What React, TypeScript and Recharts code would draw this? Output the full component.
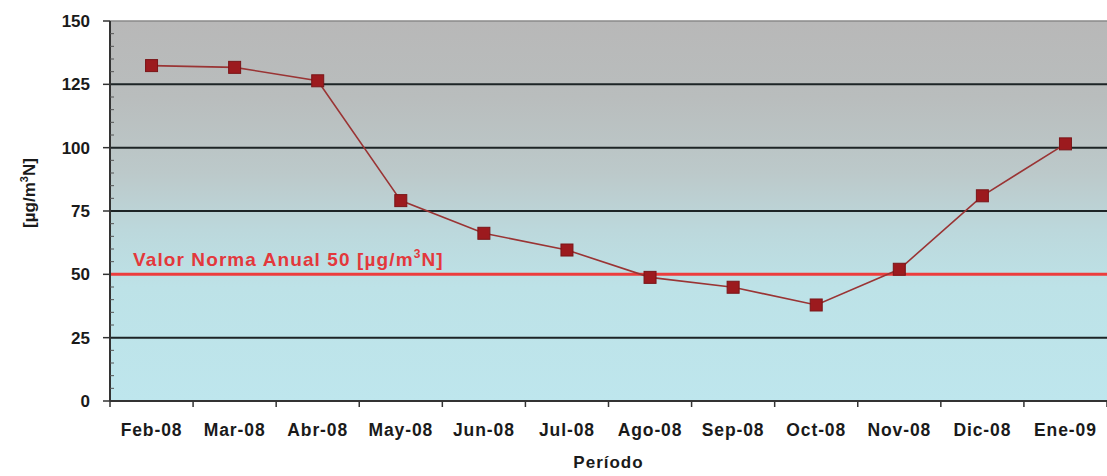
import { LineChart, Line, XAxis, YAxis, CartesianGrid, ReferenceLine } from 'recharts'

const months = ['Feb-08', 'Mar-08', 'Abr-08', 'May-08', 'Jun-08', 'Jul-08', 'Ago-08', 'Sep-08', 'Oct-08', 'Nov-08', 'Dic-08', 'Ene-09']
const concentration = [132.4, 131.7, 126.4, 79.1, 66.2, 59.6, 48.8, 44.9, 37.9, 52, 81, 101.5]
const yTicks = [0, 5, 10, 15, 20, 25, 30, 35, 40, 45, 50, 55, 60, 65, 70, 75, 80, 85, 90, 95, 100, 105, 110, 115, 120, 125, 130, 135, 140, 145, 150]
const gridValues = [25, 75, 100, 125]
const normValue = 50

const data = months.map((m, i) => ({ month: m, value: concentration[i] }))

const W = 1107
const H = 476
const PLOT_LEFT = 110
const PLOT_W = W - PLOT_LEFT
const BAND = PLOT_W / months.length
const FONT = '"Liberation Sans", Arial, sans-serif'

function YTick(props: any) {
  const { x, y, payload } = props
  const ax = x + 8
  const major = payload.value % 25 === 0
  return (
    <g>
      {major ? (
        <>
          <line x1={ax - 7} x2={ax} y1={y} y2={y} stroke="#333" strokeWidth={1.5} />
          <text x={ax - 20} y={y} dy={6} textAnchor="end" fontFamily={FONT} fontWeight="bold" fontSize={17} fill="#1a1a1a">
            {payload.value}
          </text>
        </>
      ) : (
        <line x1={ax} x2={ax + 4} y1={y} y2={y} stroke="#555" strokeWidth={1} />
      )}
    </g>
  )
}

function XTick(props: any) {
  const { x, y, payload, index } = props
  const ay = y - 8
  return (
    <g>
      <line x1={x - BAND / 2} x2={x - BAND / 2} y1={ay} y2={ay + 6} stroke="#333" strokeWidth={1.5} />
      {index === months.length - 1 && (
        <line x1={x + BAND / 2} x2={x + BAND / 2} y1={ay} y2={ay + 6} stroke="#333" strokeWidth={1.5} />
      )}
      <text x={x} y={ay + 35} textAnchor="middle" fontFamily={FONT} fontWeight="bold" fontSize={17.5} letterSpacing={0.9} fill="#1a1a1a">
        {payload.value}
      </text>
    </g>
  )
}

function YLabel() {
  return (
    <text
      transform="translate(35, 193) rotate(-90)"
      textAnchor="middle"
      fontFamily={FONT}
      fontWeight="bold"
      fontSize={17}
      fill="#1a1a1a"
    >
      [µg/m<tspan dy={-7} fontSize={11}>3</tspan>
      <tspan dy={7}>N]</tspan>
    </text>
  )
}

function NormLabel(props: any) {
  const { viewBox } = props
  return (
    <text
      x={viewBox.x + 23}
      y={viewBox.y - 8}
      fontFamily={FONT}
      fontWeight="bold"
      fontSize={19}
      letterSpacing={1.1}
      fill="#e3383c"
    >
      Valor Norma Anual 50 [µg/m<tspan dy={-8} fontSize={12}>3</tspan>
      <tspan dy={8}>N]</tspan>
    </text>
  )
}

function Marker(props: any) {
  const { cx, cy } = props
  return <rect x={cx - 6} y={cy - 6} width={12} height={12} fill="#9c1a1e" stroke="#7a1518" strokeWidth={1} />
}

export default function App() {
  return (
    <div style={{ position: 'absolute', left: 0, top: 0, background: '#fff' }}>
      <LineChart width={W} height={H} data={data} margin={{ top: 21, right: 0, left: 0, bottom: 0 }}>
        <defs>
          <linearGradient id="plotBg" x1="0" y1="0" x2="0" y2="1">
            <stop offset="0%" stopColor="#b8b8b8" />
            <stop offset="20%" stopColor="#b9bdbd" />
            <stop offset="40%" stopColor="#bcc9ca" />
            <stop offset="55%" stopColor="#bcd8dc" />
            <stop offset="70%" stopColor="#bde2e7" />
            <stop offset="100%" stopColor="#bee6ed" />
          </linearGradient>
        </defs>
        <CartesianGrid
          fill="url(#plotBg)"
          vertical={false}
          horizontalValues={gridValues}
          stroke="#1d2426"
          strokeWidth={2}
        />
        <ReferenceLine y={150} stroke="#8a8a8a" strokeWidth={1.5} />
        <XAxis
          dataKey="month"
          interval={0}
          height={75}
          padding={{ left: BAND / 2, right: BAND / 2 }}
          axisLine={{ stroke: '#333', strokeWidth: 2 }}
          tickLine={false}
          tick={<XTick />}
          label={{ value: 'Período', position: 'insideBottom', offset: 8, fontFamily: FONT, fontWeight: 'bold', fontSize: 17, letterSpacing: 1, fill: '#1a1a1a' }}
        />
        <YAxis
          width={110}
          domain={[0, 150]}
          ticks={yTicks}
          interval={0}
          axisLine={{ stroke: '#333', strokeWidth: 2 }}
          tickLine={false}
          tick={<YTick />}
          label={<YLabel />}
        />
        <ReferenceLine y={normValue} stroke="#ec3d3d" strokeWidth={3} label={<NormLabel />} />
        <Line
          type="linear"
          dataKey="value"
          stroke="#9a3434"
          strokeWidth={1.6}
          dot={<Marker />}
          activeDot={false}
          isAnimationActive={false}
        />
      </LineChart>
    </div>
  )
}
